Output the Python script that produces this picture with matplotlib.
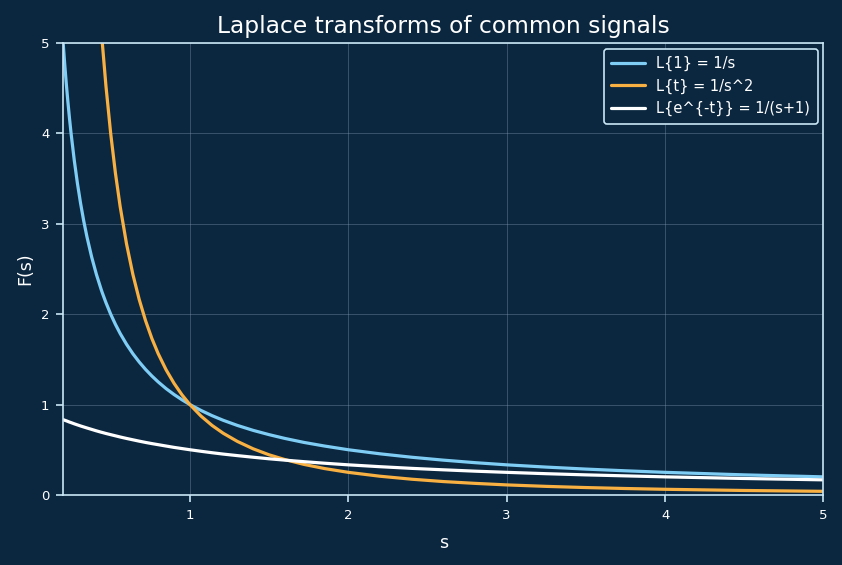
import matplotlib
matplotlib.use("Agg")
import matplotlib.pyplot as plt

# s sample points and values
s_vals = [0.20, 0.21, 0.22, 0.23, 0.24, 0.25, 0.27, 0.29, 0.31, 0.33, 0.35, 0.38, 0.41,
          0.44, 0.447, 0.47, 0.50, 0.53, 0.56, 0.60, 0.64, 0.68, 0.72, 0.76, 0.80, 0.85,
          0.90, 0.95, 1.00, 1.07, 1.14, 1.21, 1.30, 1.40, 1.50, 1.60, 1.72, 1.85, 2.00,
          2.2, 2.4, 2.6, 2.8, 3.0, 3.25, 3.5, 3.75, 4.0, 4.5, 5.0]
f_step = [5.000, 4.762, 4.545, 4.348, 4.167, 4.000, 3.704, 3.448, 3.226, 3.030, 2.857,
          2.632, 2.439, 2.273, 2.237, 2.128, 2.000, 1.887, 1.786, 1.667, 1.5625, 1.471,
          1.389, 1.316, 1.250, 1.176, 1.111, 1.053, 1.000, 0.935, 0.877, 0.826, 0.769,
          0.714, 0.667, 0.625, 0.581, 0.541, 0.500, 0.455, 0.417, 0.385, 0.357, 0.333,
          0.308, 0.286, 0.267, 0.250, 0.222, 0.200]
f_ramp = [25.0, 22.68, 20.66, 18.90, 17.36, 16.00, 13.72, 11.89, 10.41, 9.183, 8.163,
          6.925, 5.949, 5.165, 5.005, 4.527, 4.000, 3.560, 3.189, 2.778, 2.441, 2.163,
          1.929, 1.731, 1.5625, 1.384, 1.235, 1.108, 1.000, 0.873, 0.769, 0.683, 0.592,
          0.510, 0.444, 0.391, 0.338, 0.292, 0.250, 0.207, 0.174, 0.148, 0.128, 0.111,
          0.0947, 0.0816, 0.0711, 0.0625, 0.0494, 0.0400]
f_exp = [0.833, 0.826, 0.820, 0.813, 0.806, 0.800, 0.787, 0.775, 0.763, 0.752, 0.741,
         0.725, 0.709, 0.694, 0.691, 0.680, 0.667, 0.654, 0.641, 0.625, 0.610, 0.595,
         0.581, 0.568, 0.556, 0.541, 0.526, 0.513, 0.500, 0.483, 0.467, 0.452, 0.435,
         0.417, 0.400, 0.385, 0.368, 0.351, 0.333, 0.3125, 0.294, 0.278, 0.263, 0.250,
         0.235, 0.222, 0.211, 0.200, 0.182, 0.167]

labels = ["L{1} = 1/s", "L{t} = 1/s^2", "L{e^{-t}} = 1/(s+1)"]
x_ticks = [1, 2, 3, 4, 5]
y_ticks = [0, 1, 2, 3, 4, 5]

bg = "#0b2740"
spine_c = "#c8e6f5"
text_c = "white"

fig = plt.figure(figsize=(8.42, 5.65), dpi=100, facecolor=bg)
ax = fig.add_axes([0.075, 0.124, 0.903, 0.800], facecolor=bg)

kw = dict(lw=2.3, solid_joinstyle="round", solid_capstyle="round")
ax.plot(s_vals, f_step, color="#7fcdf5", label=labels[0], **kw)
ax.plot(s_vals, f_ramp, color="#f8b042", label=labels[1], **kw)
ax.plot(s_vals, f_exp, color="white", label=labels[2], **kw)

ax.set_xlim(0.2, 5)
ax.set_ylim(0, 5)
ax.set_xticks(x_ticks)
ax.set_yticks(y_ticks)
ax.grid(True, color="#8aa4bb", alpha=0.35, lw=0.7)
for sp in ax.spines.values():
    sp.set_color(spine_c)
    sp.set_linewidth(1.2)
ax.tick_params(colors=spine_c, labelcolor=text_c, labelsize=9.5, width=1.2, length=5, pad=5)

ax.set_title("Laplace transforms of common signals", color=text_c, fontsize=16.8, pad=7)
ax.set_xlabel("s", color=text_c, fontsize=12.5, labelpad=9)
ax.set_ylabel("F(s)", color=text_c, fontsize=12.5, labelpad=5)

leg = ax.legend(loc="upper right", fontsize=10.5, facecolor=bg, edgecolor=spine_c,
                framealpha=1, fancybox=True, borderpad=0.5, labelspacing=0.5,
                handlelength=2.3, borderaxespad=0.4)
for t in leg.get_texts():
    t.set_color(text_c)
leg.get_frame().set_linewidth(1.2)

fig.savefig("out.png", dpi=100, facecolor=bg)
